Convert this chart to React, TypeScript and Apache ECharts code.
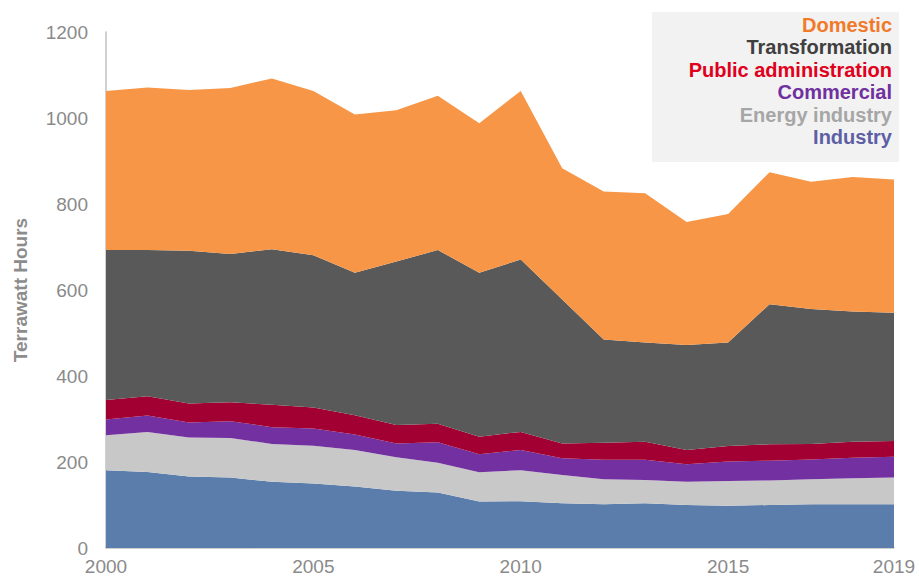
import React, { useEffect, useRef } from "react";
import * as echarts from "echarts";

const years = ["2000","2001","2002","2003","2004","2005","2006","2007","2008","2009","2010","2011","2012","2013","2014","2015","2016","2017","2018","2019"];
const yTicks = [0, 200, 400, 600, 800, 1000, 1200];
const xLabelYears = ["2000", "2005", "2010", "2015", "2019"];

const industry = [181,177,166,164,154,150,143,133,129,108,109,104,102,104,100,98,100,102,102,102];
const energyIndustry = [81,93,91,92,88,88,85,78,69,68,72,66,58,54,54,58,57,58,60,62];
const commercial = [37,38,35,39,39,40,36,32,48,42,47,39,45,47,41,45,46,46,48,48];
const publicAdmin = [45,45,44,44,52,49,45,43,43,41,42,34,40,42,33,36,38,36,37,37];
const transformation = [349,340,355,345,362,354,331,380,404,381,401,335,240,231,244,241,326,314,303,298];
const domestic = [370,378,374,386,397,382,368,352,359,348,392,305,344,347,286,299,307,296,313,310];

const seriesNames = ["Industry", "Energy industry", "Commercial", "Public administration", "Transformation", "Domestic"];
const seriesData = [industry, energyIndustry, commercial, publicAdmin, transformation, domestic];
const areaColors = ["#5a7dab", "#c8c8c8", "#7230a0", "#a20032", "#595959", "#f79646"];
const legendColors = ["#5d5fa5", "#a6a6a6", "#7030a0", "#e0001b", "#404040", "#f07a2a"];

const FONT = "Arial, 'Liberation Sans', sans-serif";

export default function App() {
  const ref = useRef<HTMLDivElement>(null);
  useEffect(() => {
    if (!ref.current) return;
    const chart = echarts.init(ref.current, undefined, { renderer: "svg" });
    const legendOrder = [5, 4, 3, 2, 1, 0];
    const legendTexts = legendOrder.map((idx, i) => ({
      type: "text",
      right: 27,
      top: 15 + i * 22.4,
      style: {
        text: seriesNames[idx],
        fill: legendColors[idx],
        font: `bold 20px ${FONT}`,
        textAlign: "right",
      },
    }));
    chart.setOption({
      animation: false,
      backgroundColor: "#ffffff",
      grid: { left: 106, right: 25, top: 32, bottom: 28 },
      xAxis: {
        type: "category",
        data: years,
        boundaryGap: false,
        axisLine: { show: true, lineStyle: { color: "#c0c0c0", width: 1.5 } },
        axisTick: { show: false },
        splitLine: { show: false },
        axisLabel: {
          interval: (_i: number, v: string) => xLabelYears.includes(v),
          color: "#8a8a8a",
          fontSize: 19,
          fontFamily: FONT,
          margin: 9,
          showMaxLabel: true,
        },
      },
      yAxis: {
        type: "value",
        min: yTicks[0],
        max: yTicks[yTicks.length - 1],
        interval: 200,
        name: "Terrawatt Hours",
        nameLocation: "middle",
        nameGap: 76,
        nameTextStyle: { color: "#8c8c8c", fontSize: 19, fontWeight: "bold", fontFamily: FONT },
        axisLine: { show: true, lineStyle: { color: "#c0c0c0", width: 1.5 } },
        axisTick: { show: false },
        splitLine: { show: false },
        axisLabel: {
          color: "#8a8a8a",
          fontSize: 19,
          fontFamily: FONT,
          margin: 18,
          formatter: (v: number) => String(v),
        },
      },
      series: seriesNames.map((name, i) => ({
        name,
        type: "line",
        stack: "total",
        data: seriesData[i],
        symbol: "none",
        lineStyle: { width: 0 },
        areaStyle: { color: areaColors[i], opacity: 1 },
        itemStyle: { color: areaColors[i] },
      })),
      graphic: [
        {
          type: "rect",
          left: 652,
          top: 12,
          shape: { width: 247, height: 150 },
          style: { fill: "#f2f2f2" },
        },
        ...legendTexts,
      ],
    });
    return () => chart.dispose();
  }, []);
  return <div ref={ref} style={{ position: "absolute", left: 0, top: 0, width: 919, height: 576 }} />;
}
